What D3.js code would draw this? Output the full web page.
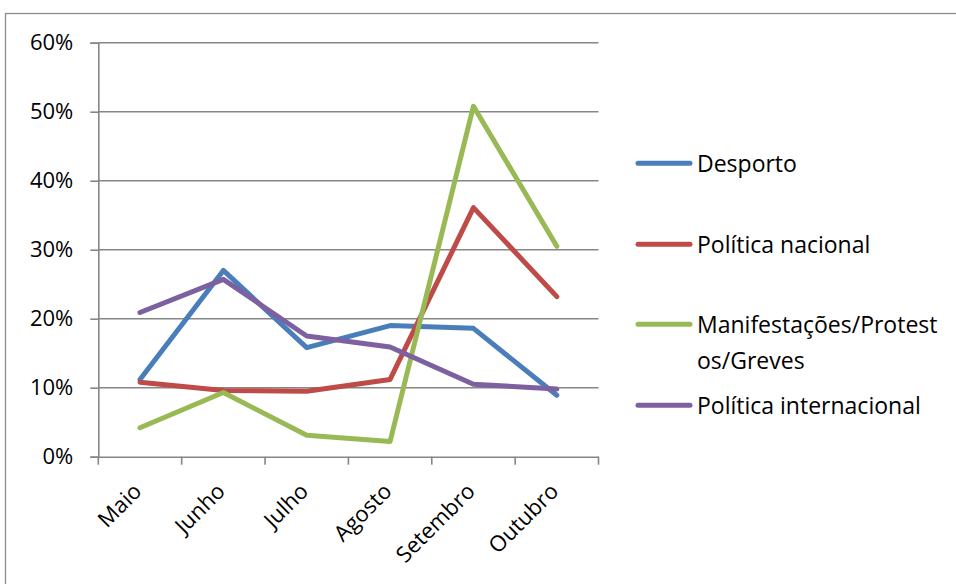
<!DOCTYPE html>
<html><head><meta charset="utf-8">
<script src="https://cdn.jsdelivr.net/npm/d3@7"></script>
<style>body{margin:0;background:#fff}svg{display:block}</style>
</head><body>
<script>
const months = ["Maio","Junho","Julho","Agosto","Setembro","Outubro"];
const seriesNames = ["Desporto","Política nacional","Manifestações/Protestos/Greves","Política internacional"];
const legendLines = [["Desporto"],["Política nacional"],["Manifestações/Protest","os/Greves"],["Política internacional"]];
const desporto = [0.112, 0.270, 0.158, 0.190, 0.186, 0.089];
const politicaNacional = [0.108, 0.096, 0.095, 0.112, 0.361, 0.232];
const manifestacoes = [0.042, 0.093, 0.031, 0.022, 0.508, 0.305];
const politicaInternacional = [0.209, 0.257, 0.175, 0.159, 0.105, 0.098];
const yTicks = [0, 0.1, 0.2, 0.3, 0.4, 0.5, 0.6];
const colors = ["#4a7ebb","#be4b48","#98b954","#7d60a0"];
const allSeries = [desporto, politicaNacional, manifestacoes, politicaInternacional];

(function(){
const W=956,H=584;
const svg=d3.select("body").append("svg").attr("width",W).attr("height",H);
const font="'Open Sans', sans-serif";
svg.append("rect").attr("x",5.5).attr("y",13.5).attr("width",1000).attr("height",1000)
  .attr("fill","none").attr("stroke","#8c8c8c").attr("stroke-width",1.3);

const pl=98.3, pr=598.5, pt=42.7, pb=456.7;
const x=d3.scaleBand().domain(months).range([pl,pr]);
const y=d3.scaleLinear().domain([0,0.6]).range([pb,pt]);

svg.append("g").selectAll("line").data(yTicks.slice(1)).join("line")
  .attr("x1",pl).attr("x2",pr).attr("y1",d=>y(d)).attr("y2",d=>y(d))
  .attr("stroke","#868686").attr("stroke-width",1.6);

const yAxis=svg.append("g").attr("transform",`translate(${pl},0)`)
  .call(d3.axisLeft(y).tickValues(yTicks).tickFormat(d3.format(".0%")).tickSize(8).tickPadding(17));
yAxis.select(".domain").attr("stroke","#868686").attr("stroke-width",1.6);
yAxis.selectAll(".tick line").attr("stroke","#868686").attr("stroke-width",1.6);
yAxis.selectAll("text").attr("font-family",font).attr("font-size",22).attr("fill","#000");

const xAxis=svg.append("g").attr("transform",`translate(0,${pb})`)
  .call(d3.axisBottom(x).tickSize(0).tickFormat(""));
xAxis.select(".domain").attr("stroke","#868686").attr("stroke-width",1.6);
const bounds = months.map(m=>x(m)).concat([pr]);
svg.append("g").selectAll("line").data(bounds).join("line")
  .attr("x1",d=>d).attr("x2",d=>d).attr("y1",pb).attr("y2",pb+8)
  .attr("stroke","#868686").attr("stroke-width",1.6);
svg.append("g").selectAll("text").data(months).join("text")
  .attr("transform",d=>`translate(${x(d)+x.bandwidth()/2+3},${pb+36}) rotate(-45)`)
  .attr("text-anchor","end").attr("font-family",font).attr("font-size",22).attr("fill","#000")
  .text(d=>d);

const line=d3.line().x((d,i)=>x(months[i])+x.bandwidth()/2).y(d=>y(d));
svg.append("g").selectAll("path").data(allSeries).join("path")
  .attr("d",line).attr("fill","none").attr("stroke",(d,i)=>colors[i])
  .attr("stroke-width",5).attr("stroke-linejoin","round").attr("stroke-linecap","round");

const legY=[163.3,244.3,324.3,405.3];
const lg=svg.append("g");
seriesNames.forEach((n,i)=>{
  lg.append("line").attr("x1",638).attr("x2",690).attr("y1",legY[i]).attr("y2",legY[i])
    .attr("stroke",colors[i]).attr("stroke-width",5).attr("stroke-linecap","round");
  const t=lg.append("text").attr("x",697).attr("y",legY[i]+9).attr("font-family",font)
    .attr("font-size",23).attr("fill","#000");
  legendLines[i].forEach((s,j)=>t.append("tspan").attr("x",697).attr("dy",j?36:0).text(s));
});
})();
</script>
</body></html>
